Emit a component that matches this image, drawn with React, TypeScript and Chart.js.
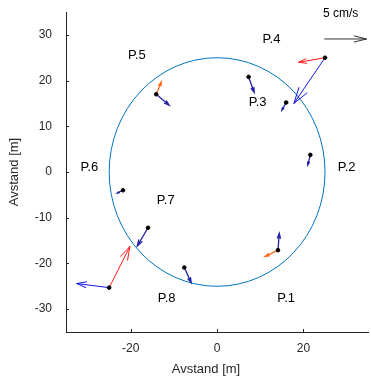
import React, { useEffect, useRef } from "react";
import { Chart, registerables } from "chart.js";

Chart.register(...registerables);

// Axis ticks
const xTicks = [-20, 0, 20];
const yTicks = [-30, -20, -10, 0, 10, 20, 30];

// Measurement positions (black dots)
const dotX = [25, -25, 7.3, 16.0, -14.1, 21.6, -21.8, -16.0, -7.6, 14.1];
const dotY = [25, -25.3, 20.8, 15.2, 17.0, 3.75, -4.0, -12.2, -20.9, -17.1];

// Vectors: start x, start y, end x, end y
const bigBlueX0 = [25, -25];
const bigBlueY0 = [25, -25.3];
const bigBlueX1 = [17.8, -32.5];
const bigBlueY1 = [15.0, -24.4];

const redX0 = [25, -25];
const redY0 = [25, -25.3];
const redX1 = [18.9, -20.2];
const redY1 = [24.0, -16.3];

const orangeX0 = [-14.1, 14.1];
const orangeY0 = [17.0, -17.1];
const orangeX1 = [-12.9, 11.1];
const orangeY1 = [19.7, -18.5];

const navyX0 = [7.3, 16.0, -14.1, 21.6, -21.8, -16.0, -7.6, 14.1];
const navyY0 = [20.8, 15.2, 17.0, 3.75, -4.0, -12.2, -20.9, -17.1];
const navyX1 = [8.6, 15.0, -11.1, 21.0, -23.1, -18.5, -6.0, 14.4];
const navyY1 = [17.4, 13.5, 14.6, 1.5, -4.6, -16.2, -24.2, -13.4];

// Scale arrow (5 cm/s)
const scaleX = [24.9, 34.6];
const scaleY = [29.1, 29.1];
const scaleLabel = "5 cm/s";
const scaleLabelPos = [28.6, 34.6];

// Circle radius
const circleRadius = 25;

// Point labels
const labelText = ["P.1", "P.2", "P.3", "P.4", "P.5", "P.6", "P.7", "P.8"];
const labelX = [16.0, 30.0, 9.4, 12.6, -18.6, -29.6, -11.9, -11.7];
const labelY = [-27.6, 0.9, 15.2, 29.1, 25.6, 0.9, -6.2, -27.6];

const FONT = "'Liberation Sans', Arial, Helvetica, sans-serif";

function drawArrow(ctx: CanvasRenderingContext2D, x0: number, y0: number, x1: number, y1: number, color: string, width: number, headFrac = 0.3, headAng = 17) {
  const dx = x1 - x0;
  const dy = y1 - y0;
  const len = Math.hypot(dx, dy);
  if (len === 0) return;
  const ang = Math.atan2(dy, dx);
  const hl = len * headFrac;
  const a = (headAng * Math.PI) / 180;
  ctx.save();
  ctx.strokeStyle = color;
  ctx.lineWidth = width;
  ctx.lineCap = "round";
  ctx.beginPath();
  ctx.moveTo(x0, y0);
  ctx.lineTo(x1, y1);
  ctx.moveTo(x1 - hl * Math.cos(ang - a), y1 - hl * Math.sin(ang - a));
  ctx.lineTo(x1, y1);
  ctx.lineTo(x1 - hl * Math.cos(ang + a), y1 - hl * Math.sin(ang + a));
  ctx.stroke();
  ctx.restore();
}

const overlay = {
  id: "overlay",
  beforeDatasetsDraw(chart: any) {
    const { ctx } = chart;
    const xs = chart.scales.x;
    const ys = chart.scales.y;
    const px = (v: number) => xs.getPixelForValue(v);
    const py = (v: number) => ys.getPixelForValue(v);

    // circle
    ctx.save();
    ctx.strokeStyle = "#0072BD";
    ctx.lineWidth = 1;
    ctx.beginPath();
    const cx = px(0);
    const cy = py(0);
    const rx = Math.abs(px(circleRadius) - cx);
    const ry = Math.abs(py(circleRadius) - cy);
    ctx.ellipse(cx, cy, rx, ry, 0, 0, Math.PI * 2);
    ctx.stroke();
    ctx.restore();

    const group = (X0: number[], Y0: number[], X1: number[], Y1: number[], color: string, w: number) => {
      for (let i = 0; i < X0.length; i++) {
        drawArrow(ctx, px(X0[i]), py(Y0[i]), px(X1[i]), py(Y1[i]), color, w);
      }
    };
    group(navyX0, navyY0, navyX1, navyY1, "#2323a6", 1.3);
    group(bigBlueX0, bigBlueY0, bigBlueX1, bigBlueY1, "#1414f0", 1);
    group(redX0, redY0, redX1, redY1, "#ff1a1a", 1);
    group(orangeX0, orangeY0, orangeX1, orangeY1, "#ff6a1a", 1.3);

    // scale arrow
    drawArrow(ctx, px(scaleX[0]), py(scaleY[0]), px(scaleX[1]), py(scaleY[1]), "#333333", 1, 0.3, 14);
    ctx.save();
    ctx.fillStyle = "#000";
    ctx.font = `12px ${FONT}`;
    ctx.textAlign = "center";
    ctx.textBaseline = "middle";
    ctx.fillText(scaleLabel, px(scaleLabelPos[0]), py(scaleLabelPos[1]));

    // point labels
    ctx.font = `13px ${FONT}`;
    for (let i = 0; i < labelText.length; i++) {
      ctx.fillText(labelText[i], px(labelX[i]), py(labelY[i]));
    }
    ctx.restore();
  },
  afterDraw(chart: any) {
    const { ctx, chartArea } = chart;
    const xs = chart.scales.x;
    const ys = chart.scales.y;
    ctx.save();
    ctx.strokeStyle = "#262626";
    ctx.lineWidth = 1;
    ctx.beginPath();
    for (const t of xTicks) {
      const x = Math.round(xs.getPixelForValue(t)) + 0.5;
      ctx.moveTo(x, chartArea.bottom);
      ctx.lineTo(x, chartArea.bottom - 3);
    }
    for (const t of yTicks) {
      const y = Math.round(ys.getPixelForValue(t)) + 0.5;
      ctx.moveTo(chartArea.left, y);
      ctx.lineTo(chartArea.left + 3, y);
    }
    ctx.stroke();

    // axis titles
    ctx.fillStyle = "#262626";
    ctx.font = `13px ${FONT}`;
    ctx.textAlign = "center";
    ctx.textBaseline = "middle";
    ctx.fillText("Avstand [m]", chartArea.left + 140, chartArea.bottom + 37);
    ctx.save();
    ctx.translate(14, (chartArea.top + chartArea.bottom) / 2);
    ctx.rotate(-Math.PI / 2);
    ctx.fillText("Avstand [m]", 0, 0);
    ctx.restore();
    ctx.restore();
  },
};

export default function App() {
  const ref = useRef<HTMLCanvasElement | null>(null);
  useEffect(() => {
    document.body.style.margin = "0";
    const canvas = ref.current!;
    const dots = dotX.map((x, i) => ({ x, y: dotY[i] }));
    const chart = new Chart(canvas, {
      type: "scatter",
      data: {
        datasets: [
          {
            data: dots,
            backgroundColor: "#000",
            borderColor: "#000",
            pointRadius: 1.8,
            pointHoverRadius: 1.8,
          },
        ],
      },
      plugins: [overlay],
      options: {
        responsive: false,
        animation: false,
        events: [],
        layout: { padding: { top: 12, right: 0, left: 0, bottom: 0 } },
        plugins: { legend: { display: false }, tooltip: { enabled: false } },
        scales: {
          x: {
            type: "linear",
            min: -35,
            max: 35,
            grid: { display: false, drawTicks: false },
            border: { display: true, color: "#262626", width: 1 },
            afterBuildTicks: (axis: any) => {
              axis.ticks = xTicks.map((v) => ({ value: v }));
            },
            afterFit: (axis: any) => {
              axis.height = 48;
              axis.paddingLeft = 0;
              axis.paddingRight = 0;
            },
            ticks: {
              color: "#262626",
              padding: 9,
              maxRotation: 0,
              font: { family: FONT, size: 12 },
              callback: (v: any) => String(v),
            },
          },
          y: {
            type: "linear",
            min: -35,
            max: 35,
            grid: { display: false, drawTicks: false },
            border: { display: true, color: "#262626", width: 1 },
            afterBuildTicks: (axis: any) => {
              axis.ticks = yTicks.map((v) => ({ value: v }));
            },
            afterFit: (axis: any) => {
              axis.width = 66;
              axis.paddingTop = 0;
              axis.paddingBottom = 0;
            },
            ticks: {
              color: "#262626",
              padding: 14,
              font: { family: FONT, size: 12 },
              callback: (v: any) => String(v),
            },
          },
        },
      },
    } as any);
    return () => chart.destroy();
  }, []);
  return <canvas ref={ref} width={371} height={380} style={{ display: "block" }} />;
}
